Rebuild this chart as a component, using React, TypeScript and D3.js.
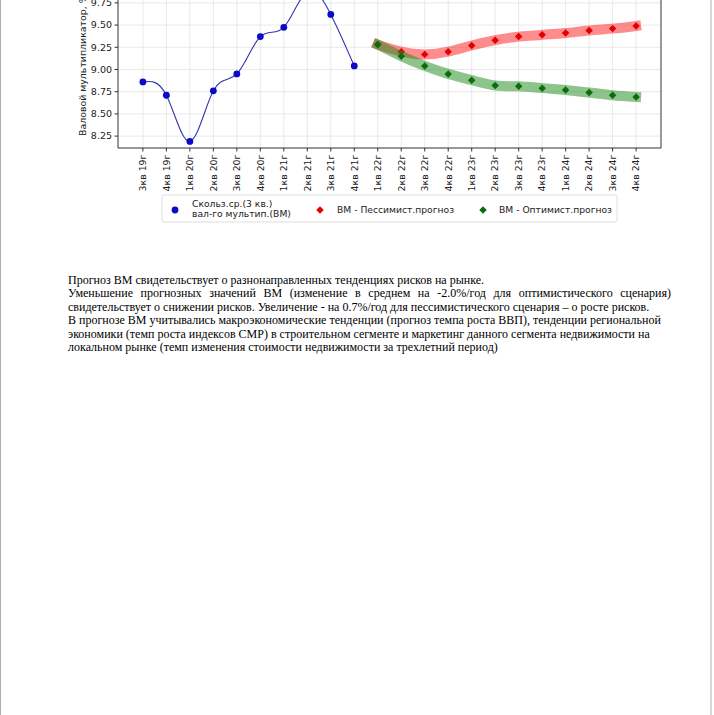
import React, { useEffect, useRef } from 'react';
import * as d3 from 'd3';

// Quarter labels on the x axis
const quarters = [
  '3кв 19г', '4кв 19г', '1кв 20г', '2кв 20г', '3кв 20г', '4кв 20г',
  '1кв 21г', '2кв 21г', '3кв 21г', '4кв 21г', '1кв 22г', '2кв 22г',
  '3кв 22г', '4кв 22г', '1кв 23г', '2кв 23г', '3кв 23г', '4кв 23г',
  '1кв 24г', '2кв 24г', '3кв 24г', '4кв 24г',
];

// Moving average of gross multiplier (first 10 quarters)
const historical = [8.86, 8.71, 8.19, 8.76, 8.95, 9.37, 9.475, 9.88, 9.62, 9.04];
// Forecasts, starting at 1кв 22г
const pessimistic = [9.28, 9.2, 9.17, 9.2, 9.27, 9.33, 9.37, 9.39, 9.41, 9.44, 9.46, 9.49];
const optimistic = [9.28, 9.15, 9.04, 8.95, 8.88, 8.82, 8.81, 8.79, 8.77, 8.74, 8.71, 8.69];

const yTicks = [8.25, 8.5, 8.75, 9.0, 9.25, 9.5, 9.75];

const legendHistLines = ['Скольз.ср.(3 кв.)', 'вал-го мультип.(ВМ)'];
const legendPess = 'ВМ - Пессимист.прогноз';
const legendOpt = 'ВМ - Оптимист.прогноз';
const yLabel = 'Валовой мультипликатор, %';

const paragraphLines = [
  { text: 'Прогноз ВМ свидетельствует о разнонаправленных тенденциях рисков на рынке.', justify: false },
  { text: 'Уменьшение прогнозных значений ВМ (изменение в среднем на -2.0%/год для оптимистического сценария)', justify: true },
  { text: 'свидетельствует о снижении рисков. Увеличение - на 0.7%/год для пессимистического сценария – о росте рисков.', justify: false },
  { text: 'В прогнозе ВМ учитывались макроэкономические тенденции (прогноз темпа роста ВВП), тенденции региональной', justify: false },
  { text: 'экономики (темп роста индексов СМР) в строительном сегменте и маркетинг данного сегмента недвижимости на', justify: false },
  { text: 'локальном рынке (темп изменения стоимости недвижимости за трехлетний период)', justify: false },
];

const W = 714;
const H = 715;

export default function App() {
  const svgRef = useRef<SVGSVGElement>(null);

  useEffect(() => {
    if (!svgRef.current) return;
    const svg = d3.select(svgRef.current);
    svg.selectAll('*').remove();

    const font = '"DejaVu Sans", sans-serif';
    const plot = { left: 118, right: 661, top: -30, bottom: 148 };

    svg.append('rect').attr('width', W).attr('height', H).attr('fill', '#fff');

    // page frame edges
    svg.append('line').attr('x1', 0.5).attr('x2', 0.5).attr('y1', 0).attr('y2', H)
      .attr('stroke', '#b0b0b0').attr('stroke-width', 1);
    svg.append('line').attr('x1', 711).attr('x2', 711).attr('y1', 0).attr('y2', H)
      .attr('stroke', '#d8d8d8').attr('stroke-width', 2);

    const x = d3.scalePoint<string>()
      .domain(quarters)
      .range([plot.left, plot.right])
      .padding(1.06);

    const y = d3.scaleLinear()
      .domain([8.116, 10.12])
      .range([plot.bottom, plot.top]);

    const g = svg.append('g');

    // grid
    g.selectAll('.vgrid').data(quarters).enter().append('line')
      .attr('x1', d => x(d)!).attr('x2', d => x(d)!)
      .attr('y1', plot.top).attr('y2', plot.bottom)
      .attr('stroke', '#e3e3e3').attr('stroke-width', 0.8);
    g.selectAll('.hgrid').data(yTicks).enter().append('line')
      .attr('x1', plot.left).attr('x2', plot.right)
      .attr('y1', d => y(d)).attr('y2', d => y(d))
      .attr('stroke', '#e3e3e3').attr('stroke-width', 0.8);

    // historical smooth line
    const histPts: [number, number][] = historical.map((v, i) => [x(quarters[i])!, y(v)]);
    g.append('path')
      .attr('d', d3.line().curve(d3.curveNatural)(histPts)!)
      .attr('fill', 'none').attr('stroke', '#3535b0').attr('stroke-width', 1.1);
    g.selectAll('.hdot').data(histPts).enter().append('circle')
      .attr('cx', d => d[0]).attr('cy', d => d[1]).attr('r', 3.4)
      .attr('fill', '#0a0ac8');

    const offset = historical.length;
    const diamond = d3.symbol().type(d3.symbolSquare).size(28);

    const drawForecast = (vals: number[], band: string, marker: string) => {
      const pts: [number, number][] = vals.map((v, i) => [x(quarters[offset + i])!, y(v)]);
      g.append('path')
        .attr('d', d3.line().curve(d3.curveNatural)(pts)!)
        .attr('fill', 'none').attr('stroke', band).attr('stroke-opacity', 0.5)
        .attr('stroke-width', 10).attr('stroke-linecap', 'square');
      g.selectAll(null).data(pts).enter().append('path')
        .attr('d', diamond()!)
        .attr('transform', d => `translate(${d[0]},${d[1]}) rotate(45)`)
        .attr('fill', marker);
    };
    drawForecast(pessimistic, '#ff1a1a', '#e00000');
    drawForecast(optimistic, '#1a8a1a', '#0b6e0b');

    // spines
    const axisColor = '#333';
    g.append('path')
      .attr('d', `M${plot.left},${plot.top}V${plot.bottom}H${plot.right}V${plot.top}`)
      .attr('fill', 'none').attr('stroke', axisColor).attr('stroke-width', 1);

    // y ticks
    yTicks.forEach(t => {
      g.append('line').attr('x1', plot.left - 3.5).attr('x2', plot.left)
        .attr('y1', y(t)).attr('y2', y(t)).attr('stroke', axisColor);
      g.append('text').attr('x', plot.left - 6).attr('y', y(t)).attr('dy', '0.35em')
        .attr('text-anchor', 'end').attr('font-family', font).attr('font-size', 9.5)
        .attr('fill', '#222').text(d3.format('.2f')(t));
    });

    // x ticks
    quarters.forEach(q => {
      const px = x(q)!;
      g.append('line').attr('x1', px).attr('x2', px)
        .attr('y1', plot.bottom).attr('y2', plot.bottom + 3.5).attr('stroke', axisColor);
      g.append('text')
        .attr('transform', `translate(${px},${plot.bottom + 6.5}) rotate(-90)`)
        .attr('dy', '0.35em').attr('text-anchor', 'end')
        .attr('font-family', font).attr('font-size', 9.4).attr('fill', '#222')
        .text(q);
    });

    // y label
    g.append('text')
      .attr('transform', `translate(82.5,136) rotate(-90)`)
      .attr('dy', '0.35em').attr('text-anchor', 'start')
      .attr('font-family', font).attr('font-size', 9.4).attr('fill', '#222')
      .text(yLabel);

    // legend
    const leg = svg.append('g');
    leg.append('rect').attr('x', 162).attr('y', 195).attr('width', 455).attr('height', 27)
      .attr('rx', 2).attr('fill', '#fff').attr('stroke', '#d5d5d5').attr('stroke-width', 0.8);
    leg.append('circle').attr('cx', 175).attr('cy', 210).attr('r', 3.4).attr('fill', '#0a0ac8');
    legendHistLines.forEach((t, i) => {
      leg.append('text').attr('x', 192).attr('y', 204 + i * 10).attr('dy', '0.35em')
        .attr('font-family', font).attr('font-size', 9.2).attr('fill', '#222').text(t);
    });
    leg.append('path').attr('d', diamond()!)
      .attr('transform', 'translate(320,210) rotate(45)').attr('fill', '#e00000');
    leg.append('text').attr('x', 337).attr('y', 210).attr('dy', '0.35em')
      .attr('font-family', font).attr('font-size', 9.2).attr('fill', '#222').text(legendPess);
    leg.append('path').attr('d', diamond()!)
      .attr('transform', 'translate(483,210) rotate(45)').attr('fill', '#0b6e0b');
    leg.append('text').attr('x', 499).attr('y', 210).attr('dy', '0.35em')
      .attr('font-family', font).attr('font-size', 9.2).attr('fill', '#222').text(legendOpt);

    // paragraph
    const textLeft = 68;
    const textRight = 671;
    paragraphLines.forEach((ln, i) => {
      const t = svg.append('text')
        .attr('x', textLeft).attr('y', 283.5 + i * 13.5)
        .attr('font-family', '"Liberation Serif", "Times New Roman", serif')
        .attr('font-size', 12).attr('fill', '#000')
        .style('white-space', 'pre')
        .text(ln.text);
      if (ln.justify) {
        const node = t.node() as SVGTextElement;
        const len = node.getComputedTextLength();
        const spaces = (ln.text.match(/ /g) || []).length;
        if (spaces > 0) t.attr('word-spacing', (textRight - textLeft - len) / spaces);
      }
    });
  }, []);

  return (
    <div style={{ position: 'absolute', left: 0, top: 0 }}>
      <svg ref={svgRef} width={W} height={H} style={{ display: 'block' }} />
    </div>
  );
}
